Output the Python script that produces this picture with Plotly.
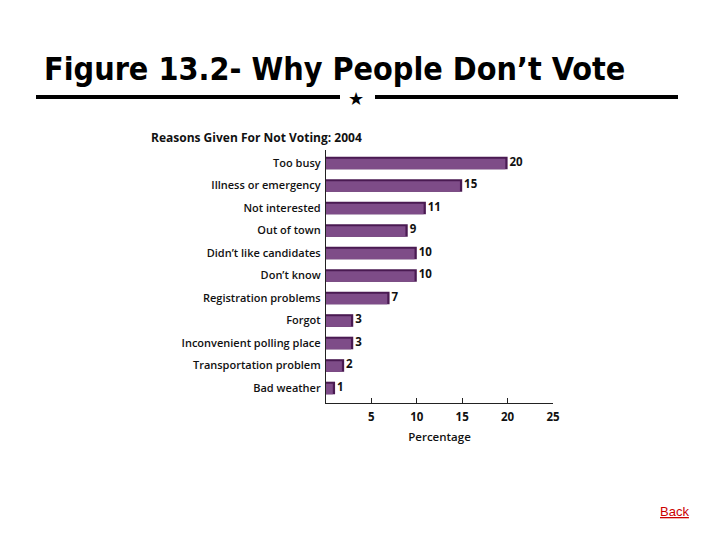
import plotly.graph_objects as go

categories = ["Too busy", "Illness or emergency", "Not interested", "Out of town",
              "Didn\u2019t like candidates", "Don\u2019t know", "Registration problems",
              "Forgot", "Inconvenient polling place", "Transportation problem", "Bad weather"]
values = [20, 15, 11, 9, 10, 10, 7, 3, 3, 2, 1]
x_ticks = [5, 10, 15, 20, 25]

W = 720
H = 540
L, R, T, B = 326, 553, 150, 403

bw = 0.56
d = 0.09
fig = go.Figure()
fig.add_trace(go.Bar(
    x=values, y=categories, orientation="h", width=bw, offset=-bw / 2,
    marker=dict(color="#4a1a52", line=dict(width=0)), hoverinfo="skip", showlegend=False))
fig.add_trace(go.Bar(
    x=[v - 0.25 for v in values], y=categories, orientation="h", width=bw - d, offset=-bw / 2 + d,
    marker=dict(color="#7e4c88", line=dict(width=0)), hoverinfo="skip", showlegend=False))
fig.add_trace(go.Scatter(
    x=values, y=categories, mode="text", text=["\u2009" + str(v) for v in values],
    textposition="middle right",
    textfont=dict(family="Open Sans", size=11.5, color="#111", weight=700),
    hoverinfo="skip", showlegend=False, cliponaxis=False))

fig.update_layout(
    width=W, height=H, barmode="overlay",
    paper_bgcolor="white", plot_bgcolor="white",
    margin=dict(l=L, r=W - R, t=T, b=H - B, pad=0),
    font=dict(family="Open Sans", color="#111"),
    xaxis=dict(range=[0, 25], tickvals=x_ticks, ticks="inside", ticklen=5, tickwidth=1,
               tickcolor="#222", showgrid=False, zeroline=False, showline=True,
               linecolor="#222", linewidth=1.2, ticklabelstandoff=3,
               tickfont=dict(family="Open Sans", size=11.5, weight=700, color="#111"),
               title=dict(text="Percentage", font=dict(family="Open Sans", size=11.5, weight=600, color="#111"),
                          standoff=10)),
    yaxis=dict(categoryorder="array", categoryarray=categories,
               range=[10.667, -0.578], showgrid=False, zeroline=False, showline=True,
               linecolor="#222", linewidth=1.2, ticks="", ticklabelstandoff=2,
               tickfont=dict(family="Open Sans", size=11, weight=600, color="#111")),
)

fig.add_annotation(x=42, y=69, xref="paper", yref="paper", text="Figure 13.2- Why People Don\u2019t Vote",
                   showarrow=False, xanchor="left", yanchor="middle",
                   font=dict(family="DejaVu Sans Condensed", size=32, weight=700, color="black"))
fig.add_annotation(x=149, y=137, text="Reasons Given For Not Voting: 2004", showarrow=False,
                   xanchor="left", yanchor="middle",
                   font=dict(family="Open Sans", size=12, weight=700, color="#111"))
fig.add_annotation(x=356, y=98, text="\u2605", showarrow=False, xanchor="center", yanchor="middle",
                   font=dict(family="DejaVu Sans", size=18, color="black"))
fig.add_annotation(x=674, y=511, text="<u>Back</u>", showarrow=False, xanchor="center", yanchor="middle",
                   font=dict(family="Liberation Sans", size=13, color="#cc0000"))

# convert pixel annotation coordinates to paper coordinates
pw = R - L
ph = B - T
for a in fig.layout.annotations:
    px, py = a.x, a.y
    a.x = (px - L) / pw
    a.y = (B - py) / ph
    a.xref = "paper"
    a.yref = "paper"

for x0, x1 in [(36, 340), (375, 678)]:
    fig.add_shape(type="line", xref="paper", yref="paper",
                  x0=(x0 - L) / pw, x1=(x1 - L) / pw, y0=(B - 97) / ph, y1=(B - 97) / ph,
                  line=dict(color="black", width=4))

fig.write_html("out.html")
